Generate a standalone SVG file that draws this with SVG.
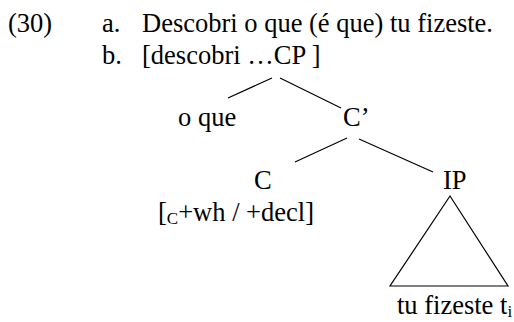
<svg xmlns="http://www.w3.org/2000/svg" width="514" height="322" viewBox="0 0 514 322">
<style>
text{font-family:"Liberation Serif","Times New Roman",serif;font-size:26.5px;fill:#000}
.sub{font-size:17px}
line,polygon{stroke:#000;stroke-width:1.2;fill:none}
</style>
<rect width="514" height="322" fill="#fff"/>
<g id="example">
<text x="8" y="32">(30)</text>
<text x="102" y="32">a.</text>
<text x="142" y="32">Descobri o que (é que) tu fizeste.</text>
<text x="102" y="64">b.</text>
<text x="142" y="64">[descobri …CP ]</text>
</g>
<g id="connectors">
<line x1="272" y1="78" x2="228" y2="98"/>
<line x1="280" y1="78" x2="341" y2="108"/>
<line x1="347" y1="138" x2="295" y2="162"/>
<line x1="359" y1="139" x2="433" y2="172"/>
</g>
<g id="oque"><text x="178" y="126">o que</text></g>
<g id="Cbar"><text x="343" y="126">C’</text></g>
<g id="C">
<text x="254" y="189">C</text>
<text x="158" y="221">[<tspan class="sub" dy="3">C</tspan><tspan dy="-3">+wh / +decl]</tspan></text>
</g>
<g id="IP">
<text x="443" y="189">IP</text>
<polygon points="450,196 390,286 508,286"/>
<text x="397" y="314">tu fizeste t<tspan class="sub" dy="3">i</tspan></text>
</g>
</svg>
